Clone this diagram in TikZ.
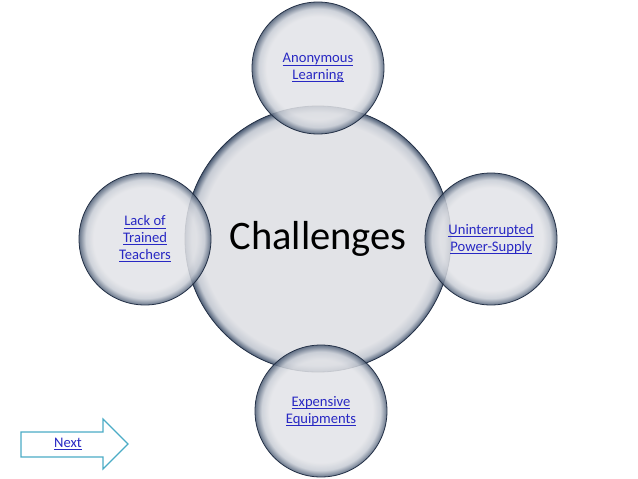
\documentclass[tikz,border=0pt]{standalone}
\usepackage{fontspec}
\setmainfont{Carlito}
\definecolor{bubbg}{RGB}{226,227,231}
\definecolor{bubmid}{RGB}{198,203,212}
\definecolor{bubedge}{RGB}{78,94,118}
\definecolor{bubline}{RGB}{35,48,70}
\definecolor{linkblue}{RGB}{40,40,195}
\definecolor{arrowteal}{RGB}{75,172,198}
\pgfdeclareradialshading{smallbub}{\pgfpoint{0bp}{0bp}}{color(0bp)=(bubbg); color(19.5bp)=(bubbg); color(22.5bp)=(bubmid); color(25bp)=(bubedge); color(50bp)=(bubedge)}
\pgfdeclareradialshading{bigbub}{\pgfpoint{0bp}{0bp}}{color(0bp)=(bubbg); color(22bp)=(bubbg); color(23.8bp)=(bubmid); color(25bp)=(bubedge); color(50bp)=(bubedge)}
\newcommand{\lk}[1]{\setbox0\hbox{#1}\rlap{\vrule width\wd0 height -1.7pt depth 2.6pt}\box0}
\tikzset{
  bubble/.style={circle, draw=bubline, line width=0.8pt, shading=smallbub,
    fill opacity=0.85, text opacity=1, minimum size=132pt, inner sep=0pt,
    align=center, font=\fontsize{14.6}{16.8}\selectfont, text=linkblue},
  hub/.style={circle, draw=bubline, line width=0.8pt, shading=bigbub,
    minimum size=266pt, inner sep=0pt, font=\fontsize{40.5}{48}\selectfont, text=black},
  nextarrow/.style={draw=arrowteal, line width=1.2pt, fill=white, line join=miter},
  linktext/.style={text=linkblue, font=\fontsize{14.6}{16.8}\selectfont, inner sep=0pt}
}
\begin{document}
\begin{tikzpicture}[x=1pt,y=-1pt]
\useasboundingbox (0,0) rectangle (638,479);
\node[hub] (hub) at (318,239) {Challenges};
\node[bubble] (top) at (318,68) {\lk{Anonymous}\\\lk{Learning}};
\node[bubble] (left) at (145,239) {\lk{Lack of}\\\lk{Trained}\\\lk{Teachers}};
\node[bubble] (right) at (491,239) {\lk{Uninterrupted}\\\lk{Power-Supply}};
\node[bubble] (bottom) at (321,411) {\lk{Expensive}\\\lk{Equipments}};
\coordinate (a1) at (21,432);
\coordinate (a2) at (103,432);
\coordinate (a3) at (103,419);
\coordinate (a4) at (128,444);
\coordinate (a5) at (103,469);
\coordinate (a6) at (103,457);
\coordinate (a7) at (21,457);
\draw[nextarrow] (a1) -- (a2) -- (a3) -- (a4) -- (a5) -- (a6) -- (a7) -- cycle;
\node[linktext] (next) at (68,444) {\lk{Next}};
\end{tikzpicture}
\end{document}
